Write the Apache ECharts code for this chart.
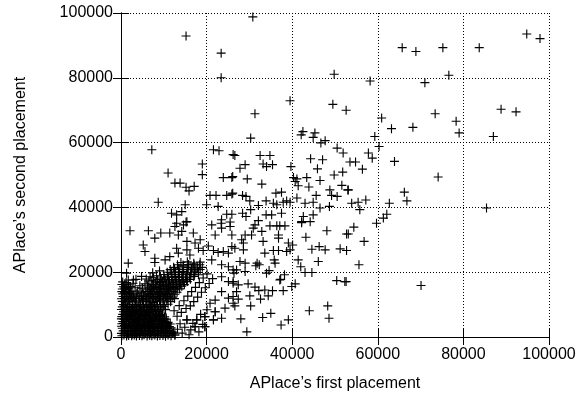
<!DOCTYPE html>
<html>
<head>
<meta charset="utf-8">
<script src="https://cdn.jsdelivr.net/npm/echarts@6/dist/echarts.min.js"></script>
<style>
  html, body { margin: 0; padding: 0; background: #fff; }
  #chart { width: 587px; height: 397px; }
</style>
</head>
<body>
<div id="chart"></div>
<script>
// axis setup
const axisMin = 0;
const axisMax = 100000;
const tickStep = 20000;

// outliers, read point by point: [first placement, second placement]
const sparsePoints = [
  [15200,92900],[23400,87600],[23400,80000],[30800,98800],[49800,81100],[39500,72900],[49500,71800],
  [52600,70000],[31300,68900],[65700,89300],[68900,88100],[75200,89300],[76600,80800],[71000,78500],
  [58200,79000],[73400,68900],[83700,89300],[94800,93500],[97900,92100],[88800,70300],[92300,69500],
  [87000,61900],[85400,39800],
  [60900,67600],[63200,64300],[68200,64700],[78300,66600],[79000,63000],[59300,61900],[60300,58800],
  [57800,56800],[58700,55200],[53500,54000],[54800,54000],[56400,51800],[63900,54200],[74100,49400],
  [53000,45400],[66200,44700],[66800,42000],[53900,41300],[55400,41600],[57200,42300],[55800,39300],
  [62700,41300],[62100,37900],[61300,36700],[59700,35100],
  [54400,33900],[53100,31800],[56800,29500],[52700,26700],[55600,22300],[52600,17100],[70100,15900]
];

// middle of the cloud, 25k-52k
const midPoints = [
  [48100,32800],[52700,31800],[43200,30800],[46300,27900],[47700,26900],[44600,27100],[51200,27200],
  [40100,28400],[39500,26900],[46100,23300],[41400,23800],[42000,21700],[43000,19900],[44600,19900],
  [50400,17400],[52300,17100],[40700,16400],[39900,15600],[44000,8100],[48300,9600],[48600,5800],
  [39100,5300],[37400,3700],[35000,7300],[33100,6000],[28000,5600],[29400,1600],[37900,14300],
  [37100,17600],[38200,19200],[35400,14300],[32600,11700],[30300,9600],[30100,12700],[32200,14300],
  [33600,14500],[34400,12700],[31300,15400],[29700,16400],[27400,11700],[26600,9600],[26200,12500],
  [27400,16100],[26200,17100],[27000,14000],[34000,19700],[34600,20500],[37300,17800],[35800,23800],
  [36000,22800],[31800,22800],[32300,22300],[31500,22000],[29000,22800],[27000,20700],[26400,19700],
  [29000,20200],[27800,23300],[33600,25900],[35600,26700],[36800,26700],[38700,26400],[39100,29000],
  [36800,30500],[36800,31500],[37100,34300],[38300,34300],[36400,34300],[34800,34300],[32900,32600],
  [33200,29500],[30500,31500],[30900,33600],[31300,34600],[29000,31500],[28600,29000],[28200,30000],
  [26600,27400],[28600,26900],[42200,35300],[25900,31500],
  [30300,61400],[42100,62400],[42500,63400],[45300,63000],[44900,61600],[46700,59900],[47700,60600],
  [50500,58300],[51900,56800],[26600,56000],[32500,56000],[34800,56000],[44300,55000],[47100,54700],
  [29000,53200],[27800,52100],[33200,53400],[34000,52600],[35400,53200],[39700,52600],[45900,51900],
  [26100,49500],[29500,48800],[32900,47200],[40300,49200],[41100,48800],[43400,49200],[40700,48000],
  [41400,46700],[46500,48300],[49800,50000],[51800,50900],[51600,46800],[53100,45400],[43900,46300],
  [48800,45400],[26100,44400],[28400,43700],[29200,43400],[36200,44400],[37500,44700],[37900,41600],
  [38700,42000],[39500,41600],[41100,42900],[45600,43700],[49200,43700],[50500,43400],[33900,42000],
  [35600,41300],[36400,40800],[30100,42000],[32100,40600],[30300,39300],[28400,38200],[29200,37200],
  [33900,37700],[35200,37700],[37500,38200],[43000,41300],[44900,41600],[46500,39800],[48700,40300],
  [42600,37200],[44900,37700],[42200,35600],[32100,35900],[25900,37900],[44200,35600]
];

// left side, 0-26k
const leftPoints = [
  [7200,57800],[21600,57800],[22900,57500],[26200,56300],[19000,53400],[19000,50100],[11000,50600],
  [12600,47500],[13800,47500],[15200,46200],[15900,45100],[17100,46500],[23900,49200],[25900,49200],
  [8700,41600],[15000,40800],[20800,43700],[22200,43700],[20000,40800],[22700,40300],[24700,43700],
  [25900,44100],[11800,38200],[13000,37700],[14200,38700],[13000,35100],[15200,35500],[23500,36200],
  [24700,37900],[25500,35500],
  [2100,32800],[6400,32800],[7900,30500],[9300,32100],[11400,32100],[12600,34100],[13400,31500],
  [14600,34600],[15400,35600],[14200,32600],[16900,32100],[15400,29500],[17300,29000],[18500,30000],
  [21200,34600],[23400,35100],[22000,31500],[23500,33600],[25500,34100],[5200,28400],[5600,26400],
  [1700,22800],[1300,19700],[1700,17600],[2900,17600],[900,15100],[900,13700],[2100,14000],[3700,13500],
  [7900,24300],[7900,23000],[10300,23800],[11400,24800],[13000,27400],[13400,25900],[15400,26900],
  [16100,25300],[18100,27400],[19200,26700],[20400,28100],[21600,26700],[22700,26100],[23900,26400],
  [25100,25900],[25900,27900],[21200,23800],[23500,22300],[25100,21700],[26200,20700],[23500,18600],
  [25100,17100],[26200,16600],[23500,14000],[25100,12000],[26200,10400],[24300,8900],[22000,7800],
  [23500,5800],[21600,5300],[19600,3200],[17300,3200],[17700,5300],[19600,6300],[15400,5300],
  [12600,600],[20800,10400],[22000,11400]
];

// the dense cluster near the origin
const clusterCore = [
  [200,400],[700,600],[1300,300],[1800,500],[2500,350],[3100,650],[3600,300],[4300,500],[4900,400],
  [5400,700],[6100,300],[6700,550],[7200,400],[7900,650],[8500,300],[9100,500],[9800,450],[10400,250],
  [11000,600],[11700,350],
  [100,1100],[900,1200],[1500,1000],[2100,1150],[2700,950],[3300,1200],[3900,1050],[4500,1150],
  [5100,950],[5700,1200],[6300,1000],[6900,1150],[7500,950],[8100,1200],[8700,1050],[9300,1150],
  [10000,1000],[10700,1200],[11300,1050],[12000,1100],
  [500,1900],[1000,2100],[1600,1800],[2200,2000],[2800,1700],[3400,2200],[4000,1900],[4600,2100],
  [5200,1800],[5800,2000],[6400,1700],[7000,2200],[7600,1900],[8200,2100],[8800,1800],[9500,2000],
  [10100,1600],[10800,2100],[11400,1900],[12300,1500],
  [300,2700],[1100,2600],[1700,2800],[2400,2650],[3000,2750],[3600,2600],[4200,2800],[4800,2650],
  [5500,2750],[6100,2600],[6700,2800],[7300,2650],[7900,2750],[8500,2600],[9100,2800],[9700,2650],
  [10400,2750],[11000,2600],[11700,2800],
  [100,3300],[800,3500],[1400,3200],[1900,3600],[2600,3300],[3200,3400],[3800,3100],[4400,3600],
  [5000,3300],[5600,3500],[6200,3200],[6800,3600],[7400,3300],[8000,3400],[8600,3100],[9300,3500],
  [9900,3300],[10600,3600],[11300,3200],
  [200,4100],[600,4200],[1300,4000],[2000,4150],[2600,4050],[3300,4200],[3900,4000],[4500,4150],
  [5200,4050],[5800,4200],[6400,4000],[7000,4150],[7600,4050],[8200,4200],[8800,4000],[9500,4150],
  [10100,4050],[10800,4200],[11500,4000],
  [400,4800],[1100,5000],[1700,4700],[2300,4900],[2900,4600],[3500,5100],[4100,4800],[4700,5000],
  [5300,4700],[5900,4900],[6500,4600],[7100,5100],[7700,4800],[8400,5000],[9000,4700],[9700,5100],
  [10300,4800],[11000,4500],
  [100,5600],[700,5500],[1300,5700],[1900,5550],[2500,5650],[3100,5500],[3700,5700],[4300,5550],
  [4900,5650],[5500,5500],[6100,5700],[6700,5550],[7300,5650],[7900,5500],[8600,5700],[9200,5550],
  [9900,5650],[10600,5500],
  [200,6300],[900,6500],[1500,6200],[2000,6600],[2700,6300],[3300,6400],[3900,6100],[4500,6500],
  [5100,6300],[5700,6600],[6300,6200],[6900,6400],[7500,6100],[8100,6500],[8800,6300],[9400,6600],
  [10200,6200],
  [400,7000],[1000,7100],[1600,6900],[2200,7050],[2800,6950],[3400,7100],[4000,6900],[4600,7050],
  [5200,6950],[5800,7100],[6400,6900],[7000,7050],[7700,6950],[8300,7100],[9000,6900],[9700,7050],
  [600,7800],[1200,8000],[1800,7700],[2400,7900],[3000,7600],[3600,8100],[4200,7800],[4800,8000],
  [5400,7700],[6000,7900],[6600,7600],[7200,8100],[7900,7800],[8600,8000],[9300,7700],
  [100,8500],[700,8600],[1300,8400],[1900,8550],[2500,8450],[3100,8600],[3700,8400],[4300,8550],
  [4900,8450],[5500,8600],[6100,8400],[6800,8550],[7400,8450],[8100,8600],[8800,8400],[9600,8550],
  [10400,8450],
  [300,9300],[900,9500],[1500,9200],[2100,9400],[2700,9100],[3300,9600],[4000,9300],[4600,9500],
  [5200,9200],[5900,9400],[6500,9100],[7100,9600],[7800,9300],[8500,9500],[9200,9200],[10000,9400],
  [600,10000],[1200,10100],[2000,9950],[2800,10050],[3700,9950],[4500,10100],[5300,9950],[6100,10050],
  [6900,9950],[7700,10100],[8500,9950],[9300,10050],[10100,9950],[11000,10100]
];

const clusterBand = [
  [300,11000],[1000,10800],[1800,11200],[2600,10900],[3400,11100],[4200,10800],[5000,11200],
  [5800,10900],[6600,11100],[7400,10700],[8200,11000],[9000,11200],[9800,10800],[10700,11100],
  [11600,10900],
  [100,11800],[800,11900],[1600,11700],[2400,11850],[3200,11750],[4400,11900],[5200,11700],
  [6000,11850],[6800,11750],[7600,11900],[8400,11700],[9200,11850],[10000,11750],[10800,11900],
  [11600,11700],[12500,11850],
  [500,12500],[1300,12300],[2100,12600],[2900,12400],[4800,12500],[5600,12700],[6400,12400],
  [7200,12600],[8000,12300],[8800,12500],[9600,12700],[10400,12400],[11200,12600],[12100,12300],
  [400,13300],[1200,13200],[2000,13400],[2800,13250],[5300,13350],[6100,13200],[6900,13400],
  [7700,13250],[8500,13350],[9300,13200],[10100,13400],[10900,13250],[11700,13350],[12600,13200],
  [200,14000],[900,13800],[1700,14100],[2500,13900],[5800,14000],[6600,14200],[7400,13900],
  [8200,14100],[9000,13800],[9800,14000],[10600,14200],[11400,13900],[12200,14100],[13100,13800],
  [300,14800],[1000,14700],[1800,14900],[6300,14750],[7100,14850],[7900,14700],[8700,14900],
  [9500,14750],[10300,14850],[11100,14700],[11900,14900],[12800,14750],[13700,14850],
  [600,15500],[1400,15300],[2200,15600],[6800,15400],[7600,15600],[8400,15300],[9200,15500],
  [10000,15700],[10800,15400],[11600,15600],[12400,15300],[13300,15500],[14200,15700],
  [200,16200],[900,16300],[1700,16100],[7300,16250],[8200,16150],[9000,16300],[9800,16100],
  [10600,16250],[11400,16150],[12200,16300],[13000,16100],[13900,16250],[14800,16150],
  [400,17000],[1200,16800],[8000,17000],[8900,16800],[9700,17100],[10500,16900],[11300,17200],
  [12100,16800],[12900,17000],[13700,17200],[14600,16900],[15500,17100],
  [8500,17700],[9400,17800],[10300,17650],[11100,17750],[11900,17650],[12700,17800],[13500,17650],
  [14400,17750],[15300,17650],[16200,17800],
  [9200,18500],[10100,18300],[11000,18600],[11800,18400],[12600,18700],[13400,18400],[14200,18600],
  [15100,18300],[16000,18500],[17000,18700],
  [10000,19300],[10900,19200],[11800,19350],[12700,19250],[13600,19350],[14500,19200],[15400,19350],
  [16300,19250],[17200,19350],[18100,19200],
  [10800,20000],[11800,19800],[12700,20100],[13600,19900],[14500,20200],[15400,19800],[16300,20000],
  [17200,20300],[18100,19900],
  [11500,20800],[12500,20900],[13500,20750],[14500,20850],[15500,20750],[16500,20900],[17500,20750],
  [18500,20850],
  [12300,21500],[13500,21300],[14600,21700],[15700,21400],[16800,21600],[17900,21300],[19000,21500],
  [13200,22300],[14500,22200],[15800,22350],[17100,22250],[18400,22300],
  [14000,23000],[15500,23200],[17000,22800],[18500,23100]
];

// scattered marks between the left strip and the band
const clusterGap = [
  [3600,12000],[4200,12900],[3900,14200],[4700,13800],[5000,15100],[4400,15800],[5600,16400],
  [6200,15800],[3300,15200],[2800,16600],[6500,17300],[7200,17500],[5900,17900],[7600,18300],
  [8300,18900],[6800,18600],[3500,17800],[4800,18700],[7400,19800],[9000,20400]
];

const clusterFringe = [
  [12600,600],[13200,2400],[13800,4100],[14300,1200],[14900,3000],[15400,5300],[15900,700],
  [16300,2200],[16800,4200],[17300,3200],[17700,5300],[18200,1600],[18600,7000],[19100,3900],
  [19600,6300],[19600,3200],[20100,8400],[21600,5300],[22000,7800],[13100,6400],[14100,7600],
  [15200,8800],[16200,9600],[17000,10900],[17900,12300],[18800,13800],[19700,15200],[20600,16500],
  [21400,18000],[12400,8100],[13600,9700],[14700,11200],[15600,12600],[16500,14000],[17400,15300],
  [18300,16800],[19200,18200],[20100,19500]
];

const xName = 'APlace\u2019s first placement';
const yName = 'APlace\u2019s second placement';

const chart = echarts.init(document.getElementById('chart'));

const font = 'Liberation Sans';
const plus = 'path://M3.5,0H4.5V3.5H8V4.5H4.5V8H3.5V4.5H0V3.5H3.5Z';

const allPoints = sparsePoints.concat(midPoints, leftPoints, clusterCore, clusterBand, clusterGap, clusterFringe);

const mainAxis = {
  type: 'value',
  min: axisMin,
  max: axisMax,
  interval: tickStep,
  axisLine: { show: true, lineStyle: { color: '#000', width: 1 } },
  axisTick: { show: true, inside: true, length: 8, lineStyle: { color: '#000' } },
  splitLine: { show: true, lineStyle: { color: '#000', type: [1, 2], width: 1 } },
  axisLabel: {
    color: '#000',
    fontFamily: font,
    fontSize: 16,
    formatter: (v) => String(v)
  },
  nameLocation: 'middle',
  nameTextStyle: { color: '#000', fontFamily: font, fontSize: 16 }
};

const mirrorAxis = {
  type: 'value',
  min: axisMin,
  max: axisMax,
  interval: tickStep,
  axisLine: { show: true, lineStyle: { color: '#000', width: 1 } },
  axisTick: { show: true, inside: true, length: 8, lineStyle: { color: '#000' } },
  splitLine: { show: false },
  axisLabel: { show: false }
};

const option = {
  animation: false,
  backgroundColor: '#fff',
  grid: { left: 121, right: 38, top: 13, bottom: 60 },
  xAxis: [
    Object.assign({}, mainAxis, {
      position: 'bottom',
      name: xName,
      nameGap: 39,
      axisLabel: Object.assign({}, mainAxis.axisLabel, { margin: 10 })
    }),
    Object.assign({}, mirrorAxis, { position: 'top' })
  ],
  yAxis: [
    Object.assign({}, mainAxis, {
      position: 'left',
      name: yName,
      nameGap: 92,
      axisLabel: Object.assign({}, mainAxis.axisLabel, { margin: 8 })
    }),
    Object.assign({}, mirrorAxis, { position: 'right' })
  ],
  series: [
    {
      type: 'scatter',
      xAxisIndex: 0,
      yAxisIndex: 0,
      data: allPoints,
      symbol: plus,
      symbolSize: 9,
      itemStyle: { color: '#000', opacity: 1 },
      silent: true
    }
  ]
};

chart.setOption(option);
</script>
</body>
</html>
